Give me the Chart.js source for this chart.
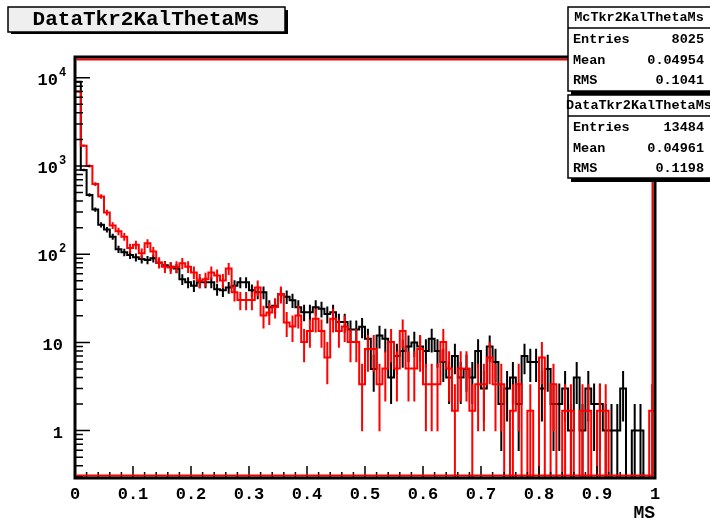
<!DOCTYPE html>
<html><head><meta charset="utf-8">
<script src="https://cdn.jsdelivr.net/npm/chart.js@4/dist/chart.umd.min.js"></script>
<style>html,body{margin:0;padding:0;background:#fff;overflow:hidden}#wrap{width:710px;height:522px;position:relative}</style>
</head><body><div id="wrap"><canvas id="c" width="710" height="522"></canvas></div>
<script>
const FONT = '"Liberation Mono", "Courier New", monospace';
// histogram definition
const nBins = 100, xMin = 0, xMax = 1;
// black: data histogram (integer counts per bin)
const dataCounts = [
 9000,900,470,320,215,190,158,114,105,98,
 92,88,86,90,80,75,72,69,52,48,
 44,48,48,48,40,39,42,44,48,48,
 39,37,37,25,26,35,33,30,25,22,
 22,25,24,21,22,17,17,14,14,15,
 11,5,12,11,4,7,8,9,10,9,
 8,11,8,6,4,7,4,5,4,8,
 3,9,6,2,3,4,2,7,6,6,
 3,5,2,2,3,1,4,1,3,2,
 2,1,1,1,3,0,1,1,0,0];
// red: MC histogram raw counts, normalised to data entries
const mcCounts = [
 4167,1012,595,371,269,177,126,108,94,70,
 76,61,79,64,48,43,42,43,47,43,
 37,30,31,37,34,30,41,22,18,18,
 18,25,12,13,15,21,10,9,12,6,
 8,11,8,4,11,8,9,6,6,2,
 5,5,2,3,6,3,8,3,3,5,
 2,2,2,6,3,1,3,3,1,2,
 2,4,2,2,0,1,2,0,1,0,
 4,0,2,0,1,1,0,1,1,0,
 1,1,0,0,0,0,0,0,0,1];
const dataEntries = 13484, mcEntries = 8025;
const mcScale = dataEntries / mcEntries;

const xTickLabels = ['0','0.1','0.2','0.3','0.4','0.5','0.6','0.7','0.8','0.9','1'];
const yTickValues = [1, 10, 100, 1000, 10000];
const yTickBases = ['1', '10', '10', '10', '10'];
const yTickExps = ['', '', '2', '3', '4'];

const titleText = 'DataTkr2KalThetaMs';
const statLabels = ['Entries', 'Mean', 'RMS'];
const mcStatName = 'McTkr2KalThetaMs';
const mcStatValues = ['8025', '0.04954', '0.1041'];
const dataStatName = 'DataTkr2KalThetaMs';
const dataStatValues = ['13484', '0.04961', '0.1198'];

const ZERO_FLOOR = 0.1; // empty bins are drawn below the axis minimum (clipped at the frame)
const binW = (xMax - xMin) / nBins;

const dataVals = dataCounts.slice();
const dataErrs = dataCounts.map(c => Math.sqrt(c));
const mcVals = mcCounts.map(n => n * mcScale);
const mcErrs = mcCounts.map(n => Math.sqrt(n) * mcScale);

function stepPoints(vals) {
  const pts = vals.map((v, i) => ({x: xMin + i * binW, y: v > 0 ? v : ZERO_FLOOR}));
  const last = vals[vals.length - 1];
  pts.push({x: xMax, y: last > 0 ? last : ZERO_FLOOR});
  return pts;
}

const errInfo = [
  {vals: mcVals, errs: mcErrs, color: '#ff0000'},
  {vals: dataVals, errs: dataErrs, color: '#000000'}
];

const errorBarPlugin = {
  id: 'errorBars',
  afterDatasetDraw(chart, args) {
    const info = errInfo[args.index];
    if (!info) return;
    const ctx = chart.ctx, a = chart.chartArea, xs = chart.scales.x, ys = chart.scales.y;
    ctx.save();
    ctx.beginPath(); ctx.rect(a.left, a.top, a.right - a.left, a.bottom - a.top); ctx.clip();
    ctx.strokeStyle = info.color; ctx.lineWidth = 2;
    ctx.beginPath();
    info.vals.forEach((v, i) => {
      if (!(v > 0)) return;
      const px = xs.getPixelForValue(xMin + (i + 0.5) * binW);
      const hi = v + info.errs[i], lo = v - info.errs[i];
      const yHi = ys.getPixelForValue(hi);
      const yLo = lo > 1e-9 ? ys.getPixelForValue(lo) : a.bottom + 5;
      ctx.moveTo(px, yHi); ctx.lineTo(px, yLo);
    });
    ctx.stroke();
    ctx.restore();
  }
};

const framePlugin = {
  id: 'frameTicks',
  afterDatasetsDraw(chart) {
    const ctx = chart.ctx, a = chart.chartArea, xs = chart.scales.x, ys = chart.scales.y;
    ctx.save();
    // tick marks inside the frame
    ctx.strokeStyle = '#000'; ctx.lineWidth = 1.5;
    ctx.beginPath();
    for (let i = 0; i <= 50; i++) {
      const px = xs.getPixelForValue(xMin + i * 0.02);
      const len = (i % 5 === 0) ? 12 : 6;
      ctx.moveTo(px, a.bottom); ctx.lineTo(px, a.bottom - len);
    }
    for (let e = -1; e <= 4; e++) {
      for (let m = 1; m <= 9; m++) {
        const v = m * Math.pow(10, e);
        if (v < ys.min || v > ys.max) continue;
        const py = ys.getPixelForValue(v);
        const len = m === 1 ? 15 : 8;
        ctx.moveTo(a.left, py); ctx.lineTo(a.left + len, py);
      }
    }
    ctx.stroke();
    // red inner frame (top, right, bottom) and black outer frame
    ctx.strokeStyle = '#ff0000'; ctx.lineWidth = 2;
    ctx.beginPath();
    ctx.moveTo(a.left + 1.5, a.top + 2.5);
    ctx.lineTo(a.right - 2.5, a.top + 2.5);
    ctx.lineTo(a.right - 2.5, a.bottom - 2.5);
    ctx.lineTo(a.left + 1.5, a.bottom - 2.5);
    ctx.stroke();
    ctx.strokeStyle = '#000'; ctx.lineWidth = 3;
    ctx.strokeRect(a.left, a.top, a.right - a.left, a.bottom - a.top);
    // y labels with exponents
    ctx.fillStyle = '#000'; ctx.textBaseline = 'middle';
    yTickValues.forEach((v, i) => {
      const py = ys.getPixelForValue(v);
      if (yTickExps[i]) {
        ctx.font = 'bold 17px ' + FONT; ctx.textAlign = 'right';
        ctx.fillText(yTickBases[i], 58, py + 3);
        ctx.font = 'bold 12px ' + FONT; ctx.textAlign = 'left';
        ctx.fillText(yTickExps[i], 59, py - 5);
      } else {
        ctx.font = 'bold 17px ' + FONT; ctx.textAlign = 'right';
        ctx.fillText(yTickBases[i], 63, py + 3);
      }
    });
    ctx.restore();
  }
};

function statBox(ctx, x, y, w, h, name, values) {
  ctx.fillStyle = '#000';
  ctx.fillRect(x + 3, y + h, w, 4);
  ctx.fillStyle = '#fff';
  ctx.fillRect(x, y, w, h);
  ctx.strokeStyle = '#000'; ctx.lineWidth = 1.5;
  ctx.strokeRect(x, y, w, h);
  ctx.beginPath(); ctx.moveTo(x, y + 21); ctx.lineTo(x + w, y + 21); ctx.stroke();
  ctx.fillStyle = '#000'; ctx.textBaseline = 'middle';
  ctx.font = 'bold 13.5px ' + FONT; ctx.textAlign = 'center';
  ctx.fillText(name, x + 71, y + 11);
  statLabels.forEach((lab, i) => {
    const yy = y + 33 + i * 20.3;
    ctx.textAlign = 'left'; ctx.fillText(lab, x + 5, yy);
    ctx.textAlign = 'right'; ctx.fillText(values[i], 704, yy);
  });
}

const boxesPlugin = {
  id: 'boxes',
  afterDraw(chart) {
    const ctx = chart.ctx;
    ctx.save();
    // title box
    ctx.fillStyle = '#000';
    ctx.fillRect(11, 31, 277, 3);
    ctx.fillRect(285, 10, 3, 24);
    ctx.fillStyle = '#efefef';
    ctx.fillRect(8, 7, 277, 25);
    ctx.strokeStyle = '#000'; ctx.lineWidth = 1.5;
    ctx.strokeRect(8, 7, 277, 25);
    ctx.fillStyle = '#000'; ctx.font = 'bold 21px ' + FONT;
    ctx.textAlign = 'center'; ctx.textBaseline = 'middle';
    ctx.fillText(titleText, 146, 20);
    // stat boxes
    statBox(ctx, 568, 7, 150, 84, mcStatName, mcStatValues);
    statBox(ctx, 568, 95, 150, 83, dataStatName, dataStatValues);
    ctx.restore();
  }
};

new Chart(document.getElementById('c'), {
  type: 'line',
  data: {
    datasets: [
      {label: mcStatName, data: stepPoints(mcVals), borderColor: '#ff0000', borderWidth: 2, stepped: 'before', pointRadius: 0, fill: false},
      {label: dataStatName, data: stepPoints(dataVals), borderColor: '#000000', borderWidth: 2, stepped: 'before', pointRadius: 0, fill: false}
    ]
  },
  options: {
    responsive: false, animation: false, devicePixelRatio: 1,
    layout: {padding: {left: 0, right: 55, top: 57, bottom: 0}},
    plugins: {legend: {display: false}, tooltip: {enabled: false}, title: {display: false}},
    scales: {
      x: {
        type: 'linear', min: xMin, max: xMax,
        grid: {display: false, drawTicks: false}, border: {display: false},
        ticks: {stepSize: 0.1, autoSkip: false, maxRotation: 0, padding: 7, color: '#000',
                font: {family: FONT, size: 17, weight: 'bold'},
                callback: (v) => xTickLabels[Math.round(v * 10)]},
        title: {display: true, text: 'MS', align: 'end', color: '#000',
                font: {family: FONT, size: 18, weight: 'bold', lineHeight: 1}, padding: {top: 0, bottom: 0}},
        afterFit: (s) => { s.height = 44; }
      },
      y: {
        type: 'logarithmic', min: 0.29, max: 17200,
        grid: {display: false}, border: {display: false}, ticks: {display: false},
        afterFit: (s) => { s.width = 75; }
      }
    }
  },
  plugins: [errorBarPlugin, framePlugin, boxesPlugin]
});
</script></body></html>
